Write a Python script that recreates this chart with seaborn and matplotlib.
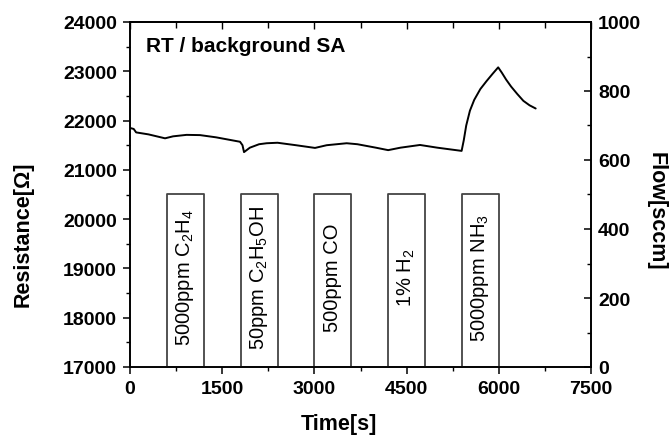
import matplotlib
matplotlib.use("Agg")
import matplotlib.pyplot as plt
import seaborn as sns
import pandas as pd
from matplotlib.ticker import MultipleLocator

# ---- data ----
time_s = [0, 60, 100, 300, 570, 700, 920, 1140, 1400, 1790, 1830, 1855, 1950, 2100,
          2223, 2400, 2700, 3010, 3200, 3525, 3700, 4000, 4200, 4400, 4718, 5000,
          5395, 5430, 5470, 5530, 5600, 5700, 5800, 5900, 5990, 6050, 6120, 6200,
          6300, 6400, 6500, 6600]
resistance = [21850, 21830, 21760, 21720, 21640, 21680, 21710, 21705, 21660, 21570,
              21500, 21360, 21450, 21520, 21540, 21550, 21500, 21445, 21500, 21540,
              21520, 21450, 21400, 21450, 21505, 21450, 21385, 21600, 21900, 22200,
              22420, 22640, 22800, 22950, 23080, 22970, 22830, 22690, 22540, 22400,
              22310, 22245]

flow_time = [0, 600, 1200, 1800, 2400, 3000, 3600, 4200, 4800, 5400, 6000, 6600]
flow_sccm = [0, 500, 0, 500, 0, 500, 0, 500, 0, 500, 0, 0]

gas_labels = ["5000ppm C$_2$H$_4$", "50ppm C$_2$H$_5$OH", "500ppm CO",
              "1% H$_2$", "5000ppm NH$_3$"]
gas_centers = [900, 2100, 3300, 4500, 5700]

sns.set_style("ticks")
plt.rcParams['font.family'] = ['Liberation Sans', 'DejaVu Sans']
plt.rcParams['mathtext.fontset'] = 'custom'
plt.rcParams['mathtext.rm'] = 'Liberation Sans'
plt.rcParams['mathtext.it'] = 'Liberation Sans'
plt.rcParams['mathtext.bf'] = 'Liberation Sans:bold'
for k in ('text.color', 'axes.labelcolor', 'xtick.color', 'ytick.color', 'axes.edgecolor'):
    plt.rcParams[k] = 'black'

fig = plt.figure(figsize=(6.69, 4.39), dpi=100)
ax = fig.add_axes([130/669, 1-368/439, (591-130)/669, (368-23)/439])
ax2 = ax.twinx()

df_r = pd.DataFrame({"t": time_s, "R": resistance})
df_f = pd.DataFrame({"t": flow_time, "F": flow_sccm})

sns.lineplot(data=df_f, x="t", y="F", ax=ax2, color="#444444", lw=1.3,
             drawstyle="steps-post", estimator=None, sort=False)
sns.lineplot(data=df_r, x="t", y="R", ax=ax, color="black", lw=1.4,
             estimator=None, sort=False)

ax.set_xlim(0, 7500)
ax.set_ylim(17000, 24000)
ax2.set_ylim(0, 1000)

for lab, c in zip(gas_labels, gas_centers):
    ax2.text(c, 262, lab, rotation=90, ha="center", va="center", fontsize=14.5,
             color="black")

ax.xaxis.set_major_locator(MultipleLocator(1500))
ax.xaxis.set_minor_locator(MultipleLocator(750))
ax.yaxis.set_major_locator(MultipleLocator(1000))
ax.yaxis.set_minor_locator(MultipleLocator(500))
ax2.yaxis.set_major_locator(MultipleLocator(200))
ax2.yaxis.set_minor_locator(MultipleLocator(100))

ax.tick_params(axis="both", which="major", direction="out", length=5, width=1.1,
               labelsize=14, pad=4.5)
ax.tick_params(axis="both", which="minor", direction="out", length=2.8, width=1.0)
ax.tick_params(axis="x", top=False, which="both")
ax2.tick_params(axis="y", which="major", direction="in", length=5, width=1.1,
                labelsize=14, pad=5)
ax2.tick_params(axis="y", which="minor", direction="in", length=2.8, width=1.0)
for lab in ax.get_xticklabels() + ax.get_yticklabels() + ax2.get_yticklabels():
    lab.set_fontweight("bold")

# top ticks (inward)
axt = ax.secondary_xaxis("top")
axt.xaxis.set_major_locator(MultipleLocator(1500))
axt.xaxis.set_minor_locator(MultipleLocator(750))
axt.tick_params(which="major", direction="in", length=5, width=1.0, labeltop=False)
axt.tick_params(which="minor", direction="in", length=4, width=1.0)
axt.spines["top"].set_linewidth(1.2)

for a in (ax, ax2):
    for s in a.spines.values():
        s.set_linewidth(1.2)
        s.set_visible(True)
        s.set_color("black")

ax.set_xlabel("")
ax.set_ylabel("")
ax2.set_ylabel("")

ax.text(0.035, 0.915, "RT / background SA", transform=ax.transAxes,
        fontsize=15, fontweight="bold", ha="left", va="baseline")

fig.text(23/669, 1-234/439, "Resistance[Ω]", rotation=90, fontsize=15.5,
         fontweight="bold", ha="center", va="center")
fig.text(656/669, 1-211/439, "Flow[sccm]", rotation=-90, fontsize=15.5,
         fontweight="bold", ha="center", va="center")
fig.text(339/669, 1-425/439, "Time[s]", fontsize=15.5, fontweight="bold",
         ha="center", va="center")

fig.savefig("out.png", dpi=100)
